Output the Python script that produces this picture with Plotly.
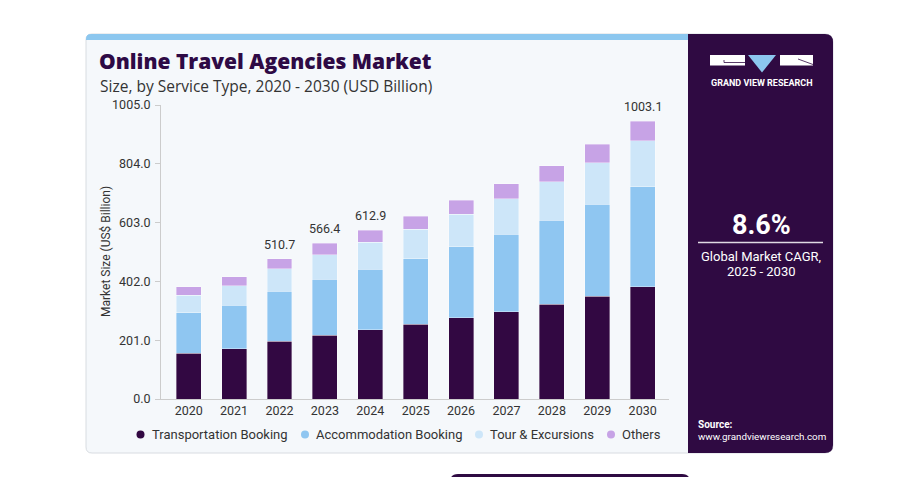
import plotly.graph_objects as go

# ---------------- data ----------------
years = ["2020", "2021", "2022", "2023", "2024", "2025", "2026", "2027", "2028", "2029", "2030"]
transportation = [157, 171, 197, 218, 236, 255, 277, 299, 324, 352, 383]
accommodation = [137, 149, 172, 192, 208, 224, 243, 264, 287, 314, 343]
tour_excursions = [60, 67, 76, 83, 92, 101, 111, 121, 132, 142, 157]
others = [30, 31, 35, 40, 41, 45, 48, 51, 55, 62, 66]
total_labels = ["", "", "510.7", "566.4", "612.9", "", "", "", "", "", "1003.1"]
y_ticks = [0, 201, 402, 603, 804, 1005]

series_names = ["Transportation Booking", "Accommodation Booking", "Tour & Excursions", "Others"]
series_values = [transportation, accommodation, tour_excursions, others]
series_colors = ["#320842", "#8fc6f1", "#cde6f9", "#c7a3e6"]

# ---------------- geometry ----------------
W, H = 904, 477
L, R, T, B = 161, 235, 105, 78
PW = W - L - R
PH = H - T - B


def px(x):
    return (x - L) / PW


def py(y):
    return (H - B - y) / PH


def rrect(x0, y0, x1, y1, rtl=0, rtr=0, rbr=0, rbl=0):
    p = []
    p.append(f"M{px(x0 + rtl)},{py(y0)}")
    p.append(f"L{px(x1 - rtr)},{py(y0)}")
    if rtr:
        p.append(f"Q{px(x1)},{py(y0)} {px(x1)},{py(y0 + rtr)}")
    p.append(f"L{px(x1)},{py(y1 - rbr)}")
    if rbr:
        p.append(f"Q{px(x1)},{py(y1)} {px(x1 - rbr)},{py(y1)}")
    p.append(f"L{px(x0 + rbl)},{py(y1)}")
    if rbl:
        p.append(f"Q{px(x0)},{py(y1)} {px(x0)},{py(y1 - rbl)}")
    p.append(f"L{px(x0)},{py(y0 + rtl)}")
    if rtl:
        p.append(f"Q{px(x0)},{py(y0)} {px(x0 + rtl)},{py(y0)}")
    p.append("Z")
    return " ".join(p)


FONT = "Roboto, Arial, sans-serif"
TXT = "#333333"
PANEL = "#2f0a42"

fig = go.Figure()

for name, vals, col in zip(series_names, series_values, series_colors):
    fig.add_trace(go.Bar(
        x=years, y=vals, name=name,
        marker=dict(color=col, line=dict(color="rgba(255,255,255,0.45)", width=0.8)),
        width=0.55, showlegend=False, hoverinfo="x+y+name",
    ))

totals = [sum(v) for v in zip(*series_values)]
annotations = []
for i, (tot, lab) in enumerate(zip(totals, total_labels)):
    if lab:
        annotations.append(dict(x=i, y=tot, xref="x", yref="y", text=lab, showarrow=False,
                                yanchor="bottom", yshift=5, font=dict(family=FONT, size=12.5, color=TXT)))

shapes = []
# card background
shapes.append(dict(type="path", path=rrect(86, 34, 833, 453, 6, 8, 8, 6), xref="paper", yref="paper",
                   fillcolor="#f5f8fb", line=dict(color="#d8dce1", width=1), layer="below"))
# top blue strip
shapes.append(dict(type="path", path=rrect(86, 34, 688, 40, 5, 0, 0, 0), xref="paper", yref="paper",
                   fillcolor="#8cc7ef", line=dict(width=0), layer="below"))
# right dark panel
shapes.append(dict(type="path", path=rrect(688, 34, 833, 453, 0, 8, 8, 0), xref="paper", yref="paper",
                   fillcolor=PANEL, line=dict(width=0), layer="below"))
# bottom dark element (cut off)
shapes.append(dict(type="path", path=rrect(450, 474, 690, 495, 8, 8, 0, 0), xref="paper", yref="paper",
                   fillcolor=PANEL, line=dict(width=0), layer="below"))
# logo
shapes.append(dict(type="rect", x0=px(710), x1=px(745), y0=py(55), y1=py(65.5), xref="paper", yref="paper",
                   fillcolor="white", line=dict(width=0), layer="above"))
shapes.append(dict(type="path", path=f"M{px(724)},{py(60)} L{px(724)},{py(62.5)} L{px(745)},{py(62.5)}",
                   xref="paper", yref="paper", line=dict(color=PANEL, width=0.8), layer="above"))
shapes.append(dict(type="path", path=f"M{px(748)},{py(55)} L{px(776)},{py(55)} L{px(762)},{py(72.5)} Z",
                   xref="paper", yref="paper", fillcolor="#8cc7ef", line=dict(width=0), layer="above"))
shapes.append(dict(type="rect", x0=px(780), x1=px(813), y0=py(55), y1=py(65.5), xref="paper", yref="paper",
                   fillcolor="white", line=dict(width=0), layer="above"))
shapes.append(dict(type="path", path=f"M{px(798)},{py(59)} L{px(813)},{py(64.5)}",
                   xref="paper", yref="paper", line=dict(color=PANEL, width=0.8), layer="above"))
# CAGR separator line
shapes.append(dict(type="line", x0=px(698), x1=px(823), y0=py(242.5), y1=py(242.5), xref="paper", yref="paper",
                   line=dict(color="rgba(255,255,255,0.85)", width=1.5), layer="above"))

# manual legend (circle markers + labels)
legend_dot_x = [140.5, 305, 479, 611]
legend_y = 434.5
for lx, col, name in zip(legend_dot_x, series_colors, series_names):
    shapes.append(dict(type="circle", x0=px(lx - 4), x1=px(lx + 4), y0=py(legend_y - 4), y1=py(legend_y + 4),
                       xref="paper", yref="paper", fillcolor=col, line=dict(width=0), layer="above"))


def txt(x, y, text, size, color, xanchor="left", bold=False, family=FONT, weight=None, angle=0):
    return dict(x=px(x), y=py(y), xref="paper", yref="paper", text=text, showarrow=False,
                xanchor=xanchor, yanchor="middle", textangle=angle,
                font=dict(family=family, size=size, color=color, weight=weight if weight else (700 if bold else 400)))


for lx, name in zip(legend_dot_x, series_names):
    annotations.append(txt(lx + 9, legend_y, name, 13, TXT))

annotations += [
    txt(97, 61.5, "Online Travel Agencies Market", 21, "#2e0a45", family="Open Sans, Roboto, sans-serif", weight=800),
    txt(98, 86, "Size, by Service Type, 2020 - 2030 (USD Billion)", 15.5, TXT, family="Open Sans, Roboto, sans-serif"),
    txt(106, 252, "Market Size (US$ Billion)", 12, TXT, xanchor="center", angle=-90),
    txt(761.5, 82.5, "GRAND VIEW RESEARCH", 9, "white", xanchor="center", bold=True),
    txt(761, 225, "8.6%", 27, "white", xanchor="center", bold=True),
    txt(761, 256, "Global Market CAGR,", 13, "white", xanchor="center"),
    txt(761, 271, "2025 - 2030", 13, "white", xanchor="center"),
    txt(696, 424, "Source:", 10, "white", bold=True),
    txt(696, 436.5, "www.grandviewresearch.com", 9.8, "white"),
]

fig.update_layout(
    width=W, height=H,
    margin=dict(l=L, r=R, t=T, b=B, pad=0),
    paper_bgcolor="white", plot_bgcolor="rgba(0,0,0,0)",
    barmode="stack",
    font=dict(family=FONT, color=TXT),
    shapes=shapes, annotations=annotations,
    showlegend=False,
    xaxis=dict(type="category", range=[-0.61, 10.58], showline=True, linecolor="#cccccc", linewidth=1,
               ticks="", showgrid=False, tickfont=dict(family=FONT, size=12.5, color=TXT), fixedrange=True),
    yaxis=dict(range=[0, 1005], tickvals=y_ticks, tickformat=".1f", showline=True, linecolor="#cccccc",
               linewidth=1, ticks="outside", ticklen=5, tickcolor="#cccccc", showgrid=False, zeroline=False,
               tickfont=dict(family=FONT, size=12.5, color=TXT), ticklabelstandoff=2,
               fixedrange=True),
)

fig.write_html("out.html")
